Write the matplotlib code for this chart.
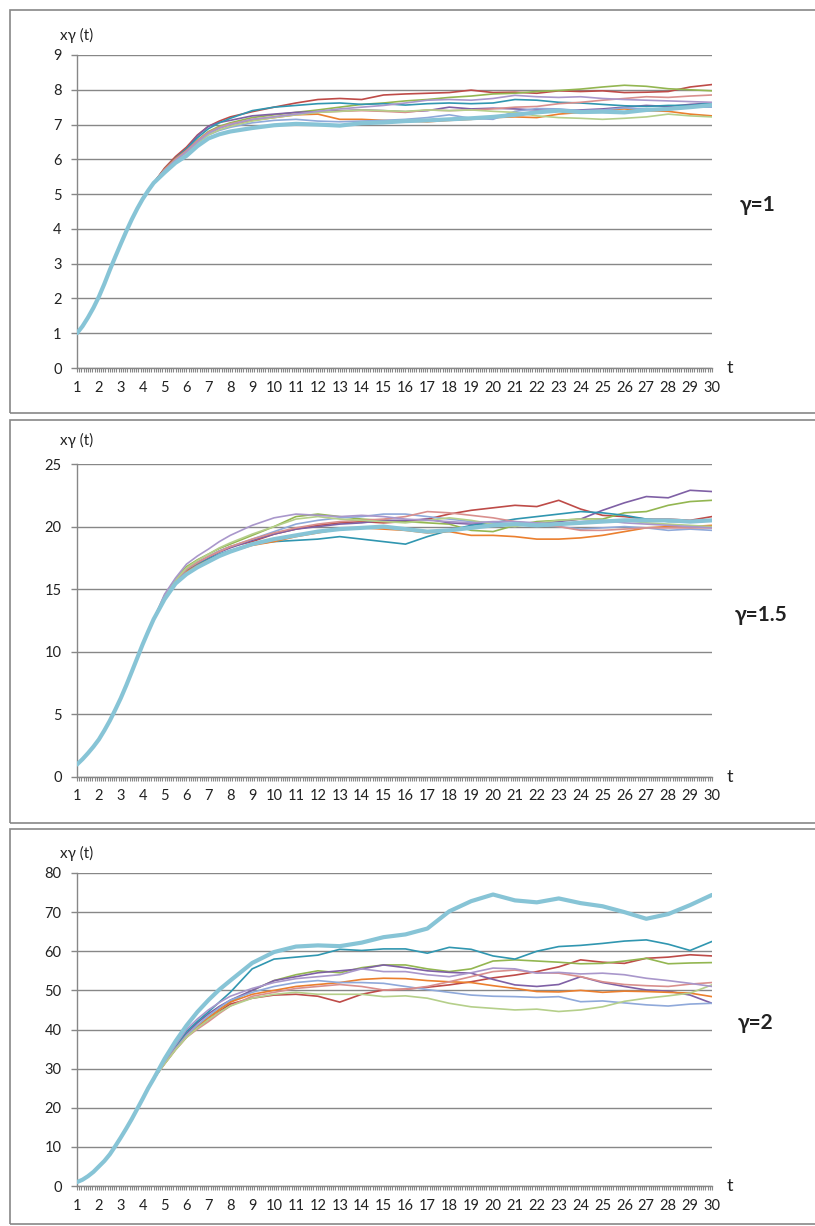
import matplotlib
matplotlib.use('Agg')
import matplotlib.pyplot as plt
from matplotlib.patches import Rectangle
from matplotlib.ticker import MultipleLocator
import numpy as np

plt.rcParams['font.family'] = ['Lato', 'DejaVu Sans']

# time grid: shared early rise (quarter steps), then per-run values
t_rise = [1.0, 1.25, 1.5, 1.75, 2.0, 2.25, 2.5, 2.75, 3.0, 3.25, 3.5, 3.75, 4.0, 4.25, 4.5]
t_tail = [5.0, 5.5, 6.0, 6.5, 7.0, 7.5, 8.0] + list(range(9, 31))

series_names = ['red', 'green', 'purple', 'teal', 'orange',
                'lightblue', 'pink', 'lightgreen', 'lightpurple', 'aqua']
series_colors = ['#BE4B48', '#93B651', '#7F60A5', '#3096B0', '#EB7F2E',
                 '#8FA9DA', '#D98F8D', '#B5CF8A', '#A997CB', '#87C4D6']

# gamma = 1
rise_g1 = [1.00, 1.20, 1.45, 1.73, 2.05, 2.42, 2.82, 3.20, 3.57, 3.93, 4.27, 4.58, 4.86, 5.10, 5.32]
g1_red = [5.75, 6.08, 6.35, 6.70, 6.95, 7.10, 7.22,
          7.37, 7.50, 7.62, 7.72, 7.75, 7.72, 7.85, 7.88, 7.90, 7.92, 7.99,
          7.92, 7.93, 7.90, 7.97, 7.95, 7.97, 7.92, 7.93, 7.95, 8.08, 8.15]
g1_green = [5.70, 6.00, 6.25, 6.55, 6.80, 6.95, 7.05,
            7.20, 7.28, 7.35, 7.42, 7.50, 7.58, 7.62, 7.68, 7.72, 7.78, 7.82,
            7.88, 7.90, 7.95, 7.98, 8.02, 8.08, 8.13, 8.10, 8.03, 8.00, 7.97]
g1_purple = [5.72, 6.03, 6.30, 6.68, 6.95, 7.06, 7.12,
             7.25, 7.30, 7.35, 7.37, 7.40, 7.42, 7.40, 7.37, 7.40, 7.50, 7.45,
             7.47, 7.45, 7.42, 7.40, 7.42, 7.45, 7.50, 7.55, 7.52, 7.58, 7.62]
g1_teal = [5.72, 6.03, 6.30, 6.62, 6.88, 7.05, 7.18,
           7.40, 7.50, 7.55, 7.60, 7.62, 7.58, 7.60, 7.56, 7.60, 7.62, 7.60,
           7.62, 7.72, 7.70, 7.64, 7.62, 7.58, 7.54, 7.52, 7.55, 7.55, 7.62]
g1_orange = [5.72, 6.02, 6.25, 6.52, 6.75, 6.90, 7.00,
             7.12, 7.20, 7.28, 7.30, 7.15, 7.15, 7.12, 7.10, 7.08, 7.12, 7.15,
             7.20, 7.22, 7.20, 7.30, 7.35, 7.42, 7.45, 7.40, 7.38, 7.30, 7.25]
g1_lightblue = [5.68, 5.97, 6.20, 6.47, 6.70, 6.83, 6.92,
                7.05, 7.12, 7.15, 7.10, 7.08, 7.10, 7.12, 7.15, 7.20, 7.28, 7.18,
                7.15, 7.38, 7.46, 7.45, 7.40, 7.42, 7.48, 7.45, 7.42, 7.50, 7.50]
g1_pink = [5.70, 6.00, 6.25, 6.54, 6.78, 6.92, 7.02,
           7.15, 7.22, 7.30, 7.35, 7.38, 7.40, 7.38, 7.35, 7.42, 7.40, 7.42,
           7.45, 7.50, 7.52, 7.60, 7.64, 7.70, 7.75, 7.80, 7.78, 7.82, 7.85]
g1_lightgreen = [5.68, 5.97, 6.20, 6.47, 6.70, 6.85, 6.95,
                 7.10, 7.20, 7.28, 7.35, 7.38, 7.42, 7.40, 7.38, 7.42, 7.40, 7.42,
                 7.38, 7.35, 7.25, 7.20, 7.18, 7.15, 7.18, 7.22, 7.30, 7.25, 7.22]
g1_lightpurple = [5.69, 5.98, 6.22, 6.50, 6.75, 6.90, 7.00,
                  7.15, 7.22, 7.30, 7.38, 7.45, 7.50, 7.55, 7.62, 7.70, 7.72, 7.70,
                  7.75, 7.84, 7.80, 7.78, 7.80, 7.75, 7.72, 7.70, 7.68, 7.66, 7.64]
g1_aqua = [5.62, 5.90, 6.10, 6.38, 6.60, 6.72, 6.80,
           6.90, 6.98, 7.02, 7.00, 6.97, 7.04, 7.06, 7.10, 7.12, 7.15, 7.18,
           7.22, 7.28, 7.35, 7.40, 7.36, 7.37, 7.35, 7.42, 7.45, 7.50, 7.56]

# gamma = 1.5
rise_g15 = [1.0, 1.42, 1.9, 2.42, 3.0, 3.72, 4.5, 5.38, 6.3, 7.32, 8.4, 9.5, 10.6, 11.62, 12.6]
g15_red = [14.4, 15.7, 16.6, 17.15, 17.6, 18.05, 18.4,
           18.8, 19.4, 19.8, 20.1, 20.3, 20.4, 20.3, 20.4, 20.6, 21.0, 21.3,
           21.5, 21.7, 21.6, 22.1, 21.4, 20.9, 20.8, 20.6, 20.6, 20.5, 20.8]
g15_green = [14.5, 15.8, 16.8, 17.35, 17.8, 18.25, 18.6,
             19.3, 20.0, 20.8, 21.0, 20.8, 20.6, 20.5, 20.4, 20.3, 20.2, 19.7,
             19.6, 20.1, 20.4, 20.5, 20.6, 20.6, 21.1, 21.2, 21.7, 22.0, 22.1]
g15_purple = [14.3, 15.6, 16.5, 17.05, 17.5, 17.95, 18.3,
              18.9, 19.4, 19.8, 20.0, 20.2, 20.3, 20.5, 20.5, 20.6, 20.3, 20.2,
              20.3, 20.2, 20.3, 20.4, 20.6, 21.3, 21.9, 22.4, 22.3, 22.9, 22.8]
g15_teal = [14.3, 15.55, 16.4, 16.95, 17.4, 17.8, 18.1,
            18.6, 18.8, 18.9, 19.0, 19.2, 19.0, 18.8, 18.6, 19.2, 19.7, 20.1,
            20.3, 20.6, 20.8, 21.0, 21.2, 21.1, 20.9, 20.6, 20.4, 20.4, 20.5]
g15_orange = [14.3, 15.55, 16.4, 16.9, 17.3, 17.7, 18.0,
              18.5, 18.8, 19.2, 19.5, 19.8, 19.9, 19.8, 19.7, 19.5, 19.6, 19.3,
              19.3, 19.2, 19.0, 19.0, 19.1, 19.3, 19.6, 19.9, 20.0, 20.0, 20.1]
g15_lightblue = [14.4, 15.65, 16.6, 17.15, 17.6, 18.05, 18.4,
                 19.0, 19.6, 20.2, 20.5, 20.7, 20.8, 21.0, 21.0, 20.8, 20.6, 20.4,
                 20.3, 20.2, 20.1, 20.0, 19.8, 19.9, 20.0, 19.9, 19.7, 19.8, 19.7]
g15_pink = [14.4, 15.7, 16.6, 17.12, 17.6, 18.0, 18.4,
            19.0, 19.5, 19.9, 20.2, 20.4, 20.5, 20.6, 20.8, 21.2, 21.1, 20.9,
            20.7, 20.4, 20.2, 20.0, 19.7, 19.7, 19.8, 19.9, 19.9, 19.9, 19.9]
g15_lightgreen = [14.5, 15.75, 16.7, 17.3, 17.8, 18.3, 18.7,
                  19.4, 20.0, 20.6, 20.8, 20.6, 20.5, 20.4, 20.3, 20.5, 20.7, 20.5,
                  20.2, 20.0, 20.3, 20.5, 20.6, 20.5, 20.5, 20.3, 20.2, 20.1, 20.0]
g15_lightpurple = [14.6, 15.9, 17.0, 17.65, 18.2, 18.8, 19.3,
                   20.1, 20.7, 21.0, 20.9, 20.8, 20.9, 20.8, 20.6, 20.5, 20.4, 20.3,
                   20.4, 20.4, 20.3, 20.2, 20.4, 20.5, 20.3, 20.2, 20.1, 20.0, 19.9]
g15_aqua = [14.2, 15.45, 16.2, 16.75, 17.2, 17.65, 18.0,
            18.6, 19.0, 19.3, 19.6, 19.8, 19.9, 20.0, 19.8, 19.6, 19.7, 19.9,
            20.1, 20.2, 20.1, 20.2, 20.3, 20.4, 20.5, 20.5, 20.5, 20.4, 20.5]

# gamma = 2
rise_g2 = [1.0, 1.6, 2.5, 3.6, 5.0, 6.4, 8.1, 10.2, 12.4, 14.7, 17.1, 19.7, 22.3, 25.0, 27.4]
g2_red = [31.3, 34.9, 38.0, 40.5, 42.5, 44.6, 46.5,
          48.0, 48.8, 49.0, 48.5, 47.0, 49.0, 50.1, 50.3, 50.8, 51.4, 52.2,
          53.2, 53.9, 54.8, 56.0, 57.8, 57.2, 56.9, 58.2, 58.5, 59.1, 58.8]
g2_green = [31.4, 35.1, 38.5, 40.9, 43.0, 45.1, 47.0,
            50.0, 52.5, 54.0, 55.0, 54.5, 55.8, 56.5, 56.5, 55.5, 54.8, 55.5,
            57.5, 57.8, 57.5, 57.2, 56.8, 56.9, 57.5, 58.2, 56.8, 57.0, 57.1]
g2_purple = [31.6, 35.4, 39.0, 41.7, 44.0, 45.9, 47.5,
             50.0, 52.5, 53.5, 54.5, 55.0, 55.5, 56.5, 55.8, 55.0, 54.6, 54.4,
             52.8, 51.4, 51.0, 51.5, 53.5, 52.0, 51.0, 50.1, 49.8, 48.8, 46.7]
g2_teal = [31.7, 35.6, 39.5, 42.1, 44.5, 47.0, 49.5,
           55.5, 58.0, 58.5, 59.0, 60.5, 60.2, 60.6, 60.6, 59.5, 61.0, 60.5,
           58.8, 58.0, 60.0, 61.2, 61.5, 62.0, 62.6, 62.9, 61.8, 60.2, 62.5]
g2_orange = [31.4, 35.1, 38.5, 40.9, 43.0, 45.1, 47.0,
             49.0, 50.0, 51.0, 51.5, 52.0, 52.8, 53.1, 53.0, 52.5, 52.2, 52.0,
             51.2, 50.5, 49.7, 49.6, 50.0, 49.5, 49.8, 49.7, 49.5, 49.3, 48.4]
g2_lightblue = [31.4, 35.1, 38.5, 41.1, 43.5, 45.6, 47.5,
                49.5, 51.0, 52.0, 52.5, 52.0, 52.0, 51.8, 51.0, 50.2, 49.5, 48.8,
                48.5, 48.4, 48.2, 48.4, 47.1, 47.3, 46.8, 46.3, 46.0, 46.5, 46.7]
g2_pink = [31.2, 34.8, 38.0, 40.1, 42.0, 44.1, 46.0,
           48.5, 49.5, 50.5, 51.0, 51.5, 51.0, 50.1, 50.3, 51.0, 52.2, 53.5,
           54.8, 55.2, 54.5, 54.4, 53.5, 52.2, 51.5, 51.2, 51.0, 51.6, 52.0]
g2_lightgreen = [31.2, 34.8, 38.0, 40.4, 42.5, 44.4, 46.0,
                 48.0, 49.0, 49.5, 49.0, 49.0, 49.0, 48.4, 48.6, 48.0, 46.7, 45.8,
                 45.4, 45.0, 45.2, 44.6, 45.0, 45.8, 47.2, 48.0, 48.6, 49.3, 51.4]
g2_lightpurple = [31.8, 36.0, 40.0, 42.7, 45.0, 46.9, 48.5,
                  50.5, 52.0, 53.0, 53.5, 54.0, 55.5, 54.8, 54.8, 54.0, 53.5, 54.5,
                  55.7, 55.5, 54.4, 54.6, 54.2, 54.4, 54.0, 53.1, 52.5, 51.8, 51.0]
g2_aqua = [32.5, 37.0, 41.0, 44.5, 47.5, 50.2, 52.5,
           57.0, 59.8, 61.2, 61.5, 61.3, 62.2, 63.6, 64.3, 65.8, 70.2, 72.8,
           74.5, 73.0, 72.5, 73.5, 72.3, 71.5, 70.0, 68.3, 69.5, 71.8, 74.4]

panels = [
    (rise_g1, [g1_red, g1_green, g1_purple, g1_teal, g1_orange, g1_lightblue,
               g1_pink, g1_lightgreen, g1_lightpurple, g1_aqua], 9, 1, 'γ=1'),
    (rise_g15, [g15_red, g15_green, g15_purple, g15_teal, g15_orange, g15_lightblue,
                g15_pink, g15_lightgreen, g15_lightpurple, g15_aqua], 25, 5, 'γ=1.5'),
    (rise_g2, [g2_red, g2_green, g2_purple, g2_teal, g2_orange, g2_lightblue,
               g2_pink, g2_lightgreen, g2_lightpurple, g2_aqua], 80, 10, 'γ=2'),
]

W, H = 815, 1226
fig = plt.figure(figsize=(W / 100, H / 100), dpi=100)

GRAY = '#878787'
frames = [(10, 413), (420, 823), (829, 1224)]   # top, bottom in pixels
axes_y = [(55, 368), (464, 777), (873, 1186)]   # y-top, y-bottom of plot area
ylab_y = [35, 440, 853]
gamma_pos = [(758, 205), (761, 615), (756, 1023)]
x0, x1 = 77, 712


def fx(px):
    return px / W


def fy(py):
    return 1 - py / H


for i, (rise, tails, ymax, ystep, glabel) in enumerate(panels):
    top, bot = frames[i]
    fig.patches.append(Rectangle((fx(10), fy(bot)), fx(W + 10), (bot - top) / H,
                                 transform=fig.transFigure, fill=False,
                                 edgecolor=GRAY, lw=1.2))
    ay0, ay1 = axes_y[i]
    ax = fig.add_axes([fx(x0), fy(ay1), (x1 - x0) / W, (ay1 - ay0) / H])

    t = np.array(t_rise + t_tail, dtype=float)
    for name, color, tail in zip(series_names, series_colors, tails):
        assert len(tail) == len(t_tail), (glabel, name)
        y = np.array(rise + tail, dtype=float)
        if name == 'aqua':
            ax.plot(t, y, color=color, lw=3.0, zorder=4, solid_capstyle='round')
        else:
            ax.plot(t, y, color=color, lw=1.2, zorder=3)

    ax.set_xlim(1, 30)
    ax.set_ylim(0, ymax)
    ax.xaxis.set_major_locator(MultipleLocator(1))
    ax.xaxis.set_minor_locator(MultipleLocator(0.1))
    ax.yaxis.set_major_locator(MultipleLocator(ystep))
    ax.grid(axis='y', color=GRAY, lw=1.0, zorder=1)
    ax.set_axisbelow(True)
    for s in ['top', 'right']:
        ax.spines[s].set_visible(False)
    for s in ['left', 'bottom']:
        ax.spines[s].set_color(GRAY)
        ax.spines[s].set_linewidth(1.0)
    ax.tick_params(axis='x', which='both', direction='out', length=3,
                   width=0.8, color=GRAY, labelsize=10.5, pad=6, labelcolor='#222222')
    ax.tick_params(axis='y', which='major', direction='out', length=4,
                   width=1.0, color=GRAY, labelsize=10.5, pad=7, labelcolor='#222222')
    ax.set_xticks(range(1, 31))
    ax.set_xticklabels([str(k) for k in range(1, 31)])

    fig.text(fx(77), fy(ylab_y[i]), 'xγ (t)', ha='center', va='center',
             fontsize=11, color='#222222')
    fig.text(fx(730), fy(ay1), 't', ha='center', va='center',
             fontsize=13, color='#222222')
    gx, gy = gamma_pos[i]
    fig.text(fx(gx), fy(gy), glabel, ha='center', va='center',
             fontsize=15, fontweight='bold', color='#222222')

fig.savefig('out.png', dpi=100)
